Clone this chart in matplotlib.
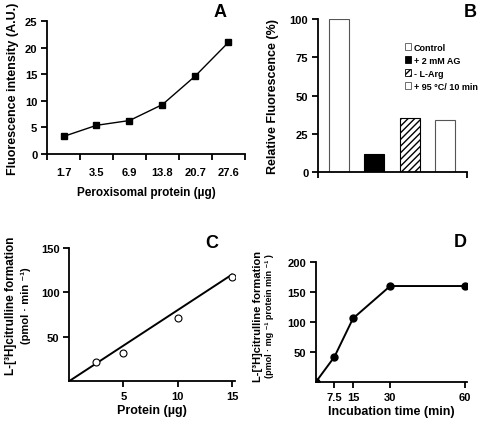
import numpy as np
import matplotlib.pyplot as plt
from matplotlib.patches import Patch

plt.rcParams['font.family'] = ['Liberation Sans', 'DejaVu Sans']
plt.rcParams['font.weight'] = 'bold'
plt.rcParams['font.size'] = 8

# Panel A
a_labels = ['1.7', '3.5', '6.9', '13.8', '20.7', '27.6']
a_values = [3.3, 5.4, 6.3, 9.3, 14.7, 21.0]

# Panel B
b_labels = ['Control', '+ 2 mM AG', '- L-Arg', '+ 95 \u00b0C/ 10 min']
b_values = [100, 12, 35, 34]

# Panel C
c_x = [2.5, 5, 10, 15]
c_y = [22, 32, 71, 117]
c_fit_x = [0, 15]
c_fit_y = [0, 120]

# Panel D
d_x = [0, 7.5, 15, 30, 60]
d_y = [0, 42, 106, 160, 160]


def style(ax):
    for s in ['top', 'right']:
        ax.spines[s].set_visible(False)
    for s in ['left', 'bottom']:
        ax.spines[s].set_linewidth(1.3)
    ax.tick_params(width=1.3, length=4, labelsize=8, pad=3)


fig = plt.figure(figsize=(4.8, 4.27), dpi=100)

# --- A ---
axA = fig.add_axes([0.098, 0.637, 0.412, 0.311])
xa = np.arange(len(a_values))
axA.plot(xa, a_values, color='black', lw=1, marker='s', ms=5)
axA.set_xlim(-0.5, len(a_values) - 0.5)
axA.set_ylim(0, 25)
axA.set_yticks([0, 5, 10, 15, 20, 25])
axA.set_xticks(xa)
axA.set_xticklabels(a_labels)
axA.set_xticks(np.arange(len(a_values) + 1) - 0.5, minor=True)
style(axA)
axA.tick_params(axis='x', which='minor', length=4, width=1.3)
axA.tick_params(axis='x', which='major', length=0, pad=9)
axA.set_ylabel('Fluorescence intensity (A.U.)', fontsize=9, fontweight='bold', labelpad=4)
axA.set_xlabel('Peroxisomal protein (\u00b5g)', fontsize=8.5, fontweight='bold', labelpad=7)
fig.text(0.458, 0.97, 'A', fontsize=13, fontweight='bold', ha='center', va='center')

# --- B ---
axB = fig.add_axes([0.6625, 0.595, 0.31, 0.358])
xb = np.arange(len(b_values))
faces = ['white', 'black', 'white', 'white']
hatches = [None, None, '/////', None]
edges = ['#555555', 'black', 'black', '#555555']
for i in range(len(b_values)):
    axB.bar(xb[i], b_values[i], width=0.57, color=faces[i], edgecolor=edges[i],
            hatch=hatches[i], linewidth=0.8)
axB.set_xlim(-0.6, 3.62)
axB.set_ylim(0, 100)
axB.set_yticks([0, 25, 50, 75, 100])
axB.set_xticks([-0.6, 3.62])
axB.set_xticklabels([])
style(axB)
axB.set_ylabel('Relative Fluorescence (%)', fontsize=9, fontweight='bold', labelpad=8)
handles = [Patch(facecolor=faces[i], edgecolor=edges[i], hatch=hatches[i], lw=0.6)
           for i in range(len(b_values))]
axB.legend(handles, b_labels, loc='upper left', bbox_to_anchor=(0.56, 0.87),
           frameon=False, fontsize=6.5, handlelength=0.7, handleheight=0.7,
           handletextpad=0.3, labelspacing=0.45, borderaxespad=0)
fig.text(0.98, 0.97, 'B', fontsize=13, fontweight='bold', ha='center', va='center')

# --- C ---
axC = fig.add_axes([0.144, 0.105, 0.346, 0.312])
axC.plot(c_fit_x, c_fit_y, color='black', lw=1.4)
axC.plot(c_x, c_y, ls='none', marker='o', ms=5, mfc='white', mec='black', mew=0.8)
axC.set_xlim(0, 15.3)
axC.set_ylim(0, 150)
axC.set_xticks([5, 10, 15])
axC.set_yticks([50, 100, 150])
style(axC)
axC.set_xlabel('Protein (\u00b5g)', fontsize=9, fontweight='bold', labelpad=2)
fig.text(0.022, 0.283, 'L-[\u00b3H]citrulline formation', rotation=90,
         fontsize=8.5, fontweight='bold', ha='center', va='center')
fig.text(0.055, 0.283, '(pmol \u00b7 min \u207b\u00b9)', rotation=90,
         fontsize=8, fontweight='bold', ha='center', va='center')
fig.text(0.442, 0.43, 'C', fontsize=13, fontweight='bold', ha='center', va='center')

# --- D ---
axD = fig.add_axes([0.658, 0.103, 0.315, 0.281])
axD.plot(d_x, d_y, color='black', lw=1.4, marker='o', ms=5)
axD.set_xlim(0, 61)
axD.set_ylim(0, 200)
axD.set_xticks([7.5, 15, 30, 60])
axD.set_xticklabels(['7.5', '15', '30', '60'])
axD.set_yticks([50, 100, 150, 200])
style(axD)
axD.set_xlabel('Incubation time (min)', fontsize=9, fontweight='bold', labelpad=2)
fig.text(0.537, 0.26, 'L-[\u00b3H]citrulline formation', rotation=90,
         fontsize=8, fontweight='bold', ha='center', va='center')
fig.text(0.562, 0.26, '(pmol \u00b7 mg \u207b\u00b9 protein min \u207b\u00b9 )', rotation=90,
         fontsize=6.5, fontweight='bold', ha='center', va='center')
fig.text(0.958, 0.433, 'D', fontsize=13, fontweight='bold', ha='center', va='center')

fig.savefig('out.png', dpi=100)
